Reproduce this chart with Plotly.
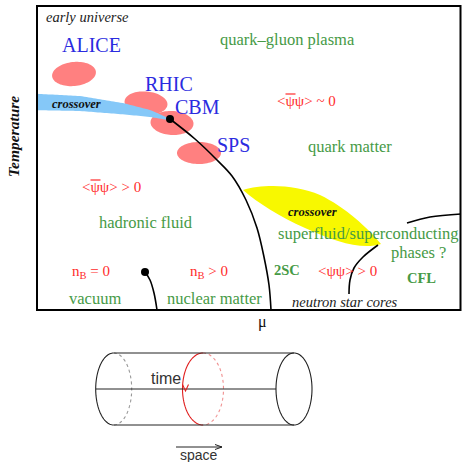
import numpy as np
import plotly.graph_objects as go

# ---------------- text content ----------------
SERIF = "Liberation Serif"
SANS = "Liberation Sans"
GREEN = "#469a46"
RED = "#ff2b2b"
BLUE = "#2b2be0"

experiments = ["ALICE", "RHIC", "CBM", "SPS"]
experiment_pos = [(62, 45), (145, 84), (175, 107), (217, 145)]

phase_labels = ["quark–gluon plasma", "quark matter", "hadronic fluid", "vacuum",
                "nuclear matter", "superfluid/superconducting", "phases ?"]
phase_pos = [(220, 39), (308, 146), (99, 222), (69, 298), (167, 298), (278, 233), (391, 252)]
phase_size = [16.5, 16.5, 16.5, 16.5, 16.5, 16.5, 16.5]

condensate_labels = ["&lt;ψψ&gt; ~ 0", "&lt;ψψ&gt; &gt; 0", "n<sub>B</sub> = 0", "n<sub>B</sub> &gt; 0",
                     "&lt;ψψ&gt; &gt; 0"]
condensate_pos = [(277, 101), (82, 187), (72, 272), (190, 272), (318, 271)]
condensate_bar = [True, True, False, False, False]   # antiquark bar over first ψ

bold_labels = ["2SC", "CFL"]
bold_pos = [(274, 270), (407, 278)]

italic_labels = ["early universe", "neutron star cores"]
italic_pos = [(46, 17), (292, 302)]

crossover_label = "crossover"
crossover_pos = [(52, 104), (288, 212)]

axis_x_label = "μ"
axis_y_label = "Temperature"
cyl_labels = ["time", "space"]

# ---------------- line geometry ----------------
critical_line_x = [170, 195, 217, 232, 246, 257, 264, 269, 271]
critical_line_y = [119, 139, 160, 176, 200, 228, 257, 285, 310]
nuclear_line_x = [145, 150, 154, 157]
nuclear_line_y = [272, 280, 293, 310]
neutron_line_x = [349, 350, 354, 363, 378]
neutron_line_y = [294, 280, 268, 257, 245]
cfl_line_x = [407, 430, 461]
cfl_line_y = [223, 217, 214]

SIZE = 462


def ell_pts(cx, cy, rx, ry, ang=0.0, t0=0.0, t1=2 * np.pi, n=80):
    t = np.linspace(t0, t1, n)
    a = np.deg2rad(ang)
    x = rx * np.cos(t)
    y = ry * np.sin(t)
    xr = cx + x * np.cos(a) - y * np.sin(a)
    yr = cy + x * np.sin(a) + y * np.cos(a)
    return xr, yr


def path_from(xs, ys, closed=True):
    p = "M " + " L ".join(f"{x:.2f},{y:.2f}" for x, y in zip(xs, ys))
    return p + (" Z" if closed else "")


shapes = []
# pink experiment ellipses
for (cx, cy, rx, ry, ang) in [(74, 74, 22, 12, -6), (146, 103, 21.5, 11.5, 5),
                              (172, 123, 21.5, 12, 3), (199, 153, 22, 11, 0)]:
    xs, ys = ell_pts(cx, cy, rx, ry, ang)
    shapes.append(dict(type="path", path=path_from(xs, ys), fillcolor="#ff8080",
                       line=dict(width=0), layer="below"))

# blue crossover band
bx = np.linspace(37, 170, 60)
cy_band = np.interp(bx, [37, 80, 125, 150, 170], [102, 103.5, 109, 113.5, 119.5])
hw = np.interp(bx, [37, 80, 125, 150, 170], [8.2, 7.5, 5.5, 3.5, 0.8])
xs = np.concatenate([bx, bx[::-1]])
ys = np.concatenate([cy_band - hw, (cy_band + hw)[::-1]])
shapes.append(dict(type="path", path=path_from(xs, ys), fillcolor="#85c8f8",
                   line=dict(width=0), layer="below"))

# yellow crossover region
shapes.append(dict(type="path",
                   path="M 243,190 C 262,184 295,184 320,195 C 345,207 368,228 381,244 "
                        "C 362,250 335,242 305,228 C 280,217 258,203 243,190 Z",
                   fillcolor="#f8f800", line=dict(width=0), layer="below"))

# frame
shapes.append(dict(type="rect", x0=37, y0=6, x1=460.5, y1=310, line=dict(color="black", width=2)))

# bars over antiquark ψ
for on, (x, y) in zip(condensate_bar, condensate_pos):
    if on:
        shapes.append(dict(type="line", x0=x + 8.5, y0=y - 7, x1=x + 18.5, y1=y - 7,
                           line=dict(color=RED, width=1.2)))

# cylinder
def half(cx, cy, rx, ry, side):
    if side == "left":
        return ell_pts(cx, cy, rx, ry, 0, np.pi / 2, 3 * np.pi / 2, 60)
    return ell_pts(cx, cy, rx, ry, 0, -np.pi / 2, np.pi / 2, 60)

cyl = [((113.7, 389, 18, 36), "left", "#222222", "solid"),
       ((113.7, 389, 18, 36), "right", "#999999", "dot"),
       ((203, 389, 20.5, 36), "left", "#e02020", "solid"),
       ((203, 389, 20.5, 36), "right", "#f09090", "dot"),
       ((294, 389, 18, 36), "left", "#222222", "solid"),
       ((294, 389, 18, 36), "right", "#222222", "solid")]
for (cx, cy, rx, ry), side, col, dash in cyl:
    xs, ys = half(cx, cy, rx, ry, side)
    shapes.append(dict(type="path", path=path_from(xs, ys, closed=False),
                       line=dict(color=col, width=1.1, dash=dash)))
for y in (353, 425):
    shapes.append(dict(type="line", x0=113.7, y0=y, x1=294, y1=y, line=dict(color="#222222", width=1)))
shapes.append(dict(type="line", x0=96, y0=389, x1=276, y1=389, line=dict(color="#222222", width=1)))
# red arrow head on ring
shapes.append(dict(type="path", path="M 182.5,384.5 L 185.5,391 L 188.5,384.5",
                   line=dict(color="#e02020", width=1.1)))
# space arrow
shapes.append(dict(type="line", x0=176, y0=447, x1=222, y1=447, line=dict(color="#222222", width=1)))
shapes.append(dict(type="path", path="M 215,444.5 L 222,447 L 215,449.5",
                   line=dict(color="#222222", width=1)))

fig = go.Figure()
for lx, ly in [(critical_line_x, critical_line_y), (nuclear_line_x, nuclear_line_y),
               (neutron_line_x, neutron_line_y), (cfl_line_x, cfl_line_y)]:
    fig.add_trace(go.Scatter(x=lx, y=ly, mode="lines", line=dict(color="black", width=1.6, shape="spline"),
                             hoverinfo="skip", showlegend=False))
fig.add_trace(go.Scatter(x=[critical_line_x[0], nuclear_line_x[0]], y=[critical_line_y[0], nuclear_line_y[0]],
                         mode="markers", marker=dict(color="black", size=8), hoverinfo="skip", showlegend=False))

ann = []
def add(text, x, y, size, color, family=SERIF, anchor="left", **kw):
    ann.append(dict(text=text, x=x, y=y, xref="x", yref="y", showarrow=False, xanchor=anchor,
                    xshift=-2.5 if anchor == "left" else 0,
                    yanchor="middle", font=dict(family=family, size=size, color=color), **kw))

for t, (x, y) in zip(experiments, experiment_pos):
    add(t, x, y, 20, BLUE)
for t, (x, y), s in zip(phase_labels, phase_pos, phase_size):
    add(t, x, y, s, GREEN)
for t, (x, y) in zip(condensate_labels, condensate_pos):
    add(t, x, y, 15, RED)
for t, (x, y) in zip(bold_labels, bold_pos):
    add(f"<b>{t}</b>", x, y, 14.5, GREEN)
for t, (x, y) in zip(italic_labels, italic_pos):
    add(f"<i>{t}</i>", x, y, 14.5, "#222222")
for (x, y) in crossover_pos:
    add(f"<b><i>{crossover_label}</i></b>", x, y, 12.5, "#111111")
add(axis_x_label, 262, 322, 16, "#111111", anchor="center")
add(f"<b><i>{axis_y_label}</i></b>", 13, 137, 15.5, "#111111", anchor="center", textangle=-90)
add(cyl_labels[0], 151, 378, 16, "#333333", family=SANS)
add(cyl_labels[1], 199, 455, 14, "#333333", family=SANS, anchor="center")

fig.update_layout(width=SIZE, height=SIZE, margin=dict(l=0, r=0, t=0, b=0),
                  paper_bgcolor="white", plot_bgcolor="white",
                  xaxis=dict(range=[0, SIZE], visible=False, fixedrange=True),
                  yaxis=dict(range=[SIZE, 0], visible=False, fixedrange=True),
                  shapes=shapes, annotations=ann)
fig.write_html("out.html", config={"displayModeBar": False, "staticPlot": True},
               post_script="document.body.style.margin='0';document.body.style.overflow='hidden';")
